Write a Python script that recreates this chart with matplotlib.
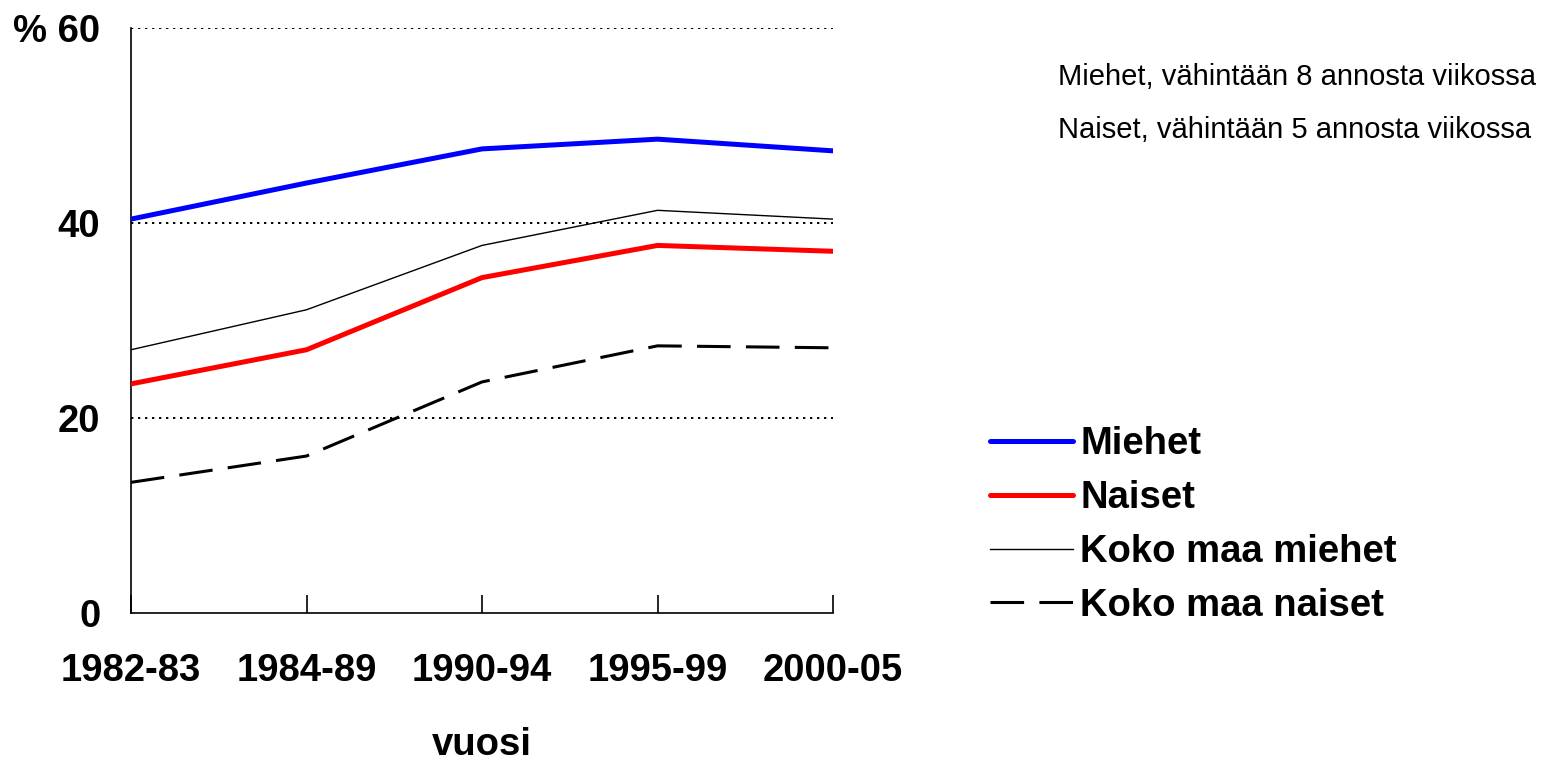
import matplotlib
matplotlib.use("Agg")
import matplotlib.pyplot as plt

periods = ["1982-83", "1984-89", "1990-94", "1995-99", "2000-05"]
miehet = [40.4, 44.1, 47.6, 48.6, 47.4]
naiset = [23.5, 27.0, 34.4, 37.7, 37.1]
koko_miehet = [27.0, 31.1, 37.7, 41.3, 40.4]
koko_naiset = [13.4, 16.1, 23.7, 27.4, 27.2]
yticks = [0, 20, 40, 60]
ytick_labels = ["0", "20", "40", "% 60"]

plt.rcParams['font.family'] = ['Liberation Sans', 'DejaVu Sans']

fig = plt.figure(figsize=(15.43, 7.61), dpi=100)
ax = fig.add_axes([131/1543, 1-613/761, (833-131)/1543, (613-28)/761])

x = list(range(len(periods)))
ax.plot(x, miehet, color='#0000ff', lw=3.6, label='Miehet', solid_capstyle='round', zorder=4)
ax.plot(x, naiset, color='#ff0000', lw=3.6, label='Naiset', solid_capstyle='round', zorder=4)
ax.plot(x, koko_miehet, color='black', lw=1.0, label='Koko maa miehet', zorder=3)
ax.plot(x, koko_naiset, color='black', lw=2.2, dashes=(11, 5), label='Koko maa naiset', zorder=3)

for yv in [20, 40, 60]:
    ax.axhline(yv, color='black', lw=1.4, ls=(0, (1.2, 2.4)), zorder=1)

ax.set_xlim(0, len(periods)-1)
ax.set_ylim(0, 60)
ax.spines['top'].set_visible(False)
ax.spines['right'].set_visible(False)
ax.spines['left'].set_linewidth(1.2)
ax.spines['bottom'].set_linewidth(1.2)
ax.set_xticks(x)
ax.set_xticklabels(periods, fontsize=27.5, fontweight='bold')
ax.set_yticks(yticks)
ax.set_yticklabels(ytick_labels, fontsize=27.5, fontweight='bold')
ax.tick_params(axis='x', direction='in', length=13, width=1.2, pad=29)
ax.tick_params(axis='y', length=0, pad=22)
ax.set_xlabel('vuosi', fontsize=27.5, fontweight='bold', labelpad=27)

leg = ax.legend(loc='upper left', bbox_to_anchor=(990/1543, 1-426/761), bbox_transform=fig.transFigure,
                frameon=False, fontsize=27.5, handlelength=2.18, handletextpad=0.18, labelspacing=0.47,
                borderaxespad=0, borderpad=0)
for t in leg.get_texts():
    t.set_fontweight('bold')

fig.text(1058/1543, 1-77/761, 'Miehet, vähintään 8 annosta viikossa', fontsize=21, va='center', ha='left')
fig.text(1058/1543, 1-130/761, 'Naiset, vähintään 5 annosta viikossa', fontsize=21, va='center', ha='left')

fig.savefig('out.png', dpi=100)
